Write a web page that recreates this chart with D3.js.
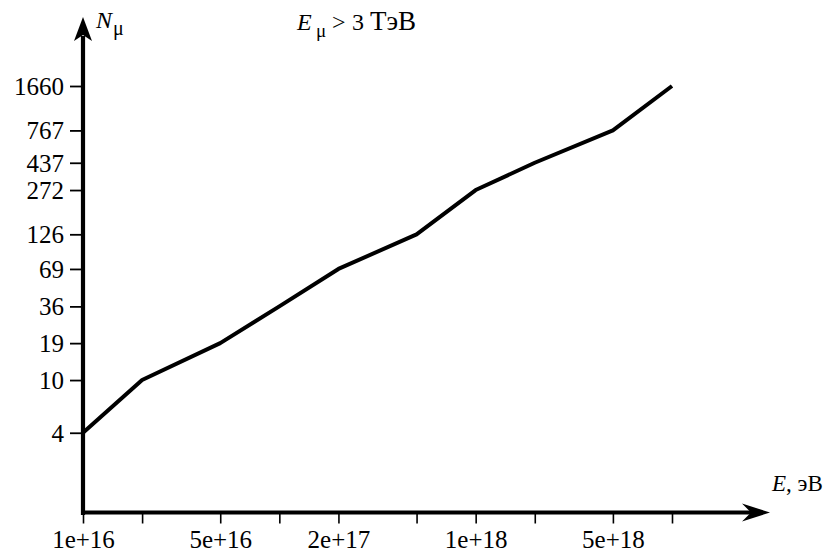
<!DOCTYPE html>
<html>
<head>
<meta charset="utf-8">
<script src="https://cdn.jsdelivr.net/npm/d3@7"></script>
<style>
  html, body { margin: 0; padding: 0; background: #fff; }
  svg { display: block; }
  svg text { font-family: "Liberation Serif", "DejaVu Serif", serif; fill: #000; }
</style>
</head>
<body>
<svg id="chart" width="829" height="556"></svg>
<script>
// Primary energy E (eV) and mean muon number N_mu above 3 TeV
const energies = [1e16, 2e16, 5e16, 1e17, 2e17, 5e17, 1e18, 2e18, 5e18, 1e19];
const muonCounts = [4, 10, 19, 36, 69, 126, 272, 437, 767, 1660];

// Axis ticks
const xTickValues = [1e16, 2e16, 5e16, 1e17, 2e17, 5e17, 1e18, 2e18, 5e18, 1e19];
const xTickLabels = ["1e+16", "", "5e+16", "", "2e+17", "", "1e+18", "", "5e+18", ""];
const yTickValues = [4, 10, 19, 36, 69, 126, 272, 437, 767, 1660];

const serif = "'Liberation Serif', 'DejaVu Serif', serif";
const svg = d3.select("#chart");

const x = d3.scaleLog().domain([1e16, 1e19]).range([83, 672]);
const y = d3.scaleLog().domain([1, 1660]).range([512.5, 86]);

const x0 = x.range()[0];
const y0 = y.range()[0];

// Bottom axis ticks and labels
const xAxis = d3.axisBottom(x)
  .tickValues(xTickValues)
  .tickSize(11)
  .tickPadding(6)
  .tickFormat((d, i) => xTickLabels[i]);

const gx = svg.append("g")
  .attr("transform", `translate(0,${y0})`)
  .call(xAxis)
  .attr("font-family", serif)
  .attr("font-size", 25);
gx.select(".domain").remove();
gx.selectAll(".tick line").attr("stroke", "#000").attr("stroke-width", 1.6);
gx.selectAll(".tick text")
  .style("font-family", serif)
  .attr("fill", "#000")
  .attr("dy", "0.72em");

// Left axis ticks and labels
const yAxis = d3.axisLeft(y)
  .tickValues(yTickValues)
  .tickSize(13)
  .tickPadding(6)
  .tickFormat(d3.format("d"));

const gy = svg.append("g")
  .attr("transform", `translate(${x0},0)`)
  .call(yAxis)
  .attr("font-family", serif)
  .attr("font-size", 25);
gy.select(".domain").remove();
gy.selectAll(".tick line").attr("stroke", "#000").attr("stroke-width", 1.8);
gy.selectAll(".tick text")
  .style("font-family", serif)
  .attr("fill", "#000")
  .attr("dy", "0.34em");

// Axis lines with arrowheads
svg.append("line")
  .attr("x1", x0).attr("y1", y0 + 2.5)
  .attr("x2", x0).attr("y2", 36)
  .attr("stroke", "#000").attr("stroke-width", 4.2);
svg.append("line")
  .attr("x1", x0 - 2).attr("y1", y0)
  .attr("x2", 752).attr("y2", y0)
  .attr("stroke", "#000").attr("stroke-width", 4.2);

// Up arrow on the N axis
svg.append("path")
  .attr("d", `M${x0},17 L${x0 + 9},41 L${x0},35 L${x0 - 9},41 Z`)
  .attr("fill", "#000");
// Right arrow on the E axis
svg.append("path")
  .attr("d", `M770,${y0} L742,${y0 - 9} L751,${y0} L742,${y0 + 9} Z`)
  .attr("fill", "#000");

// Data line
const line = d3.line()
  .x((d, i) => x(energies[i]))
  .y(d => y(d));

svg.append("path")
  .datum(muonCounts)
  .attr("d", line)
  .attr("fill", "none")
  .attr("stroke", "#000")
  .attr("stroke-width", 4)
  .attr("stroke-linejoin", "round")
  .attr("stroke-linecap", "butt");

// Axis titles
const yTitle = svg.append("text")
  .attr("x", 96).attr("y", 28)
  .style("font-family", serif)
  .attr("font-size", 24);
yTitle.append("tspan").attr("font-style", "italic").text("N");
yTitle.append("tspan").attr("font-size", 20).attr("dx", 1).attr("dy", 7).text("μ");

const xTitle = svg.append("text")
  .attr("x", 772).attr("y", 491)
  .style("font-family", serif)
  .attr("font-size", 23);
xTitle.append("tspan").attr("font-style", "italic").text("E");
xTitle.append("tspan").text(", эВ");

// Energy threshold note: E_mu > 3 TeV
const note = svg.append("g").style("font-family", serif);
note.append("text").attr("x", 297).attr("y", 30).attr("font-size", 24)
  .attr("font-style", "italic").text("E");
note.append("text").attr("x", 316).attr("y", 37).attr("font-size", 19).text("μ");
note.append("text").attr("x", 332).attr("y", 30).attr("font-size", 24).text(">");
note.append("text").attr("x", 352).attr("y", 30).attr("font-size", 24).text("3");
note.append("text").attr("x", 370).attr("y", 30).attr("font-size", 27).text("ТэВ");
</script>
</body>
</html>
